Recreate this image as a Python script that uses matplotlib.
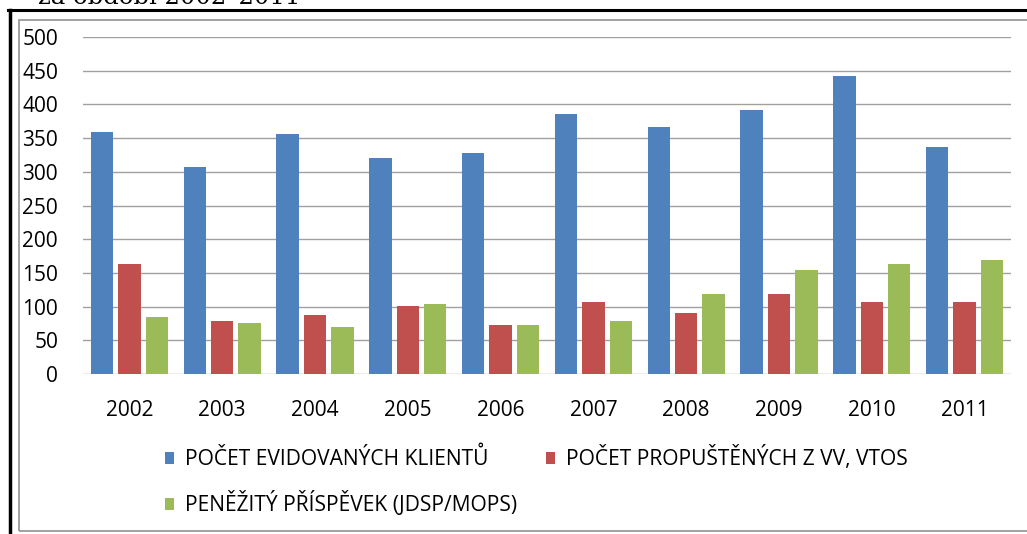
import matplotlib.pyplot as plt
import matplotlib.lines as mlines
import matplotlib.patches as mpatches
import numpy as np

# data
years = ["2002", "2003", "2004", "2005", "2006", "2007", "2008", "2009", "2010", "2011"]
evidovani = [359, 307, 356, 321, 328, 386, 367, 392, 442, 337]
propusteni = [163, 79, 88, 101, 72, 107, 91, 119, 107, 107]
prispevek = [85, 75, 69, 104, 72, 79, 119, 155, 163, 169]

labels = ["POČET EVIDOVANÝCH KLIENTŮ", "POČET PROPUŠTĚNÝCH Z VV, VTOS", "PENĚŽITÝ PŘÍSPĚVEK (JDSP/MOPS)"]
colors = ["#4F81BD", "#C0504D", "#9BBB59"]

W, H = 1027, 534
fig = plt.figure(figsize=(W / 100, H / 100), dpi=100)
plt.rcParams['font.family'] = ['Open Sans', 'DejaVu Sans']

# frame lines around the chart (page border + chart area border)
fig.add_artist(mlines.Line2D([8 / W, 1], [1 - 10 / H, 1 - 10 / H], color="black", lw=2.2, transform=fig.transFigure))
fig.add_artist(mlines.Line2D([9.5 / W, 9.5 / W], [0, 1 - 10 / H], color="black", lw=2.5, transform=fig.transFigure))
fig.add_artist(mpatches.Rectangle((18.5 / W, 1 - 531 / H), 1.2, (531 - 19.5) / H, fill=False,
                                  edgecolor="#9a9a9a", lw=1.3, transform=fig.transFigure))

# caption cut off at the top of the page
fig.text(38 / W, 1 - 3.5 / H, "za období 2002–2011", family="DejaVu Serif", fontsize=17.5,
         ha="left", va="baseline")

ax = fig.add_axes([83 / W, 1 - 374 / H, (1011 - 83) / W, (374 - 37) / H])

x = np.arange(len(years))
width = 0.24
step = 0.295
series = [evidovani, propusteni, prispevek]
bars = []
for i, vals in enumerate(series):
    b = ax.bar(x + (i - 1) * step, vals, width, color=colors[i], label=labels[i], zorder=3)
    bars.append(b)

ax.set_xlim(-0.5, len(years) - 0.5)
ax.set_ylim(0, 500)
ax.set_yticks(np.arange(0, 501, 50))
ax.set_xticks(x)
ax.set_xticklabels(years)
ax.yaxis.grid(True, color="#a0a0a0", lw=1.0, zorder=0)
for s in ax.spines.values():
    s.set_visible(False)
ax.tick_params(axis="both", length=0, labelsize=15)
ax.tick_params(axis="y", pad=18)
ax.tick_params(axis="x", pad=19)

# legend: row-major order -> reorder for column filling
order = [0, 2, 1]
fig.legend([bars[i] for i in order], [labels[i] for i in order], ncol=2,
           loc="upper left", bbox_to_anchor=(165 / W, 1 - 446 / H),
           frameon=False, fontsize=15.1, handlelength=0.42, handleheight=0.5,
           handletextpad=0.55, columnspacing=1.35, labelspacing=1.0,
           borderpad=0, borderaxespad=0)

fig.savefig("out.png", dpi=100)
